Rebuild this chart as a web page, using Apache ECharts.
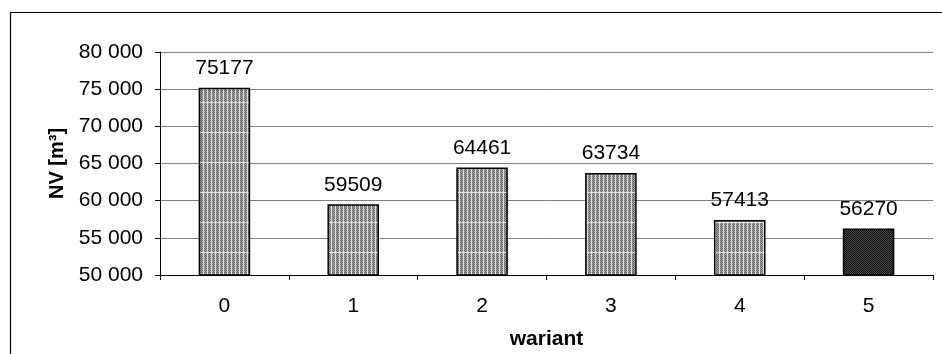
<!DOCTYPE html>
<html><head><meta charset="utf-8">
<script src="https://cdn.jsdelivr.net/npm/echarts@6/dist/echarts.min.js"></script>
<style>html,body{margin:0;padding:0;background:#fff}#c{width:942px;height:354px}</style>
</head><body><div id="c"></div>
<script>
const categories = ['0','1','2','3','4','5'];
const values = [75177, 59509, 64461, 63734, 57413, 56270];
const yTicks = [50000, 55000, 60000, 65000, 70000, 75000, 80000];

function grayPattern() {
  const c = document.createElement('canvas');
  c.width = 4; c.height = 30;
  const g = c.getContext('2d');
  for (let y = 0; y < 30; y++) for (let x = 0; x < 4; x++) {
    g.fillStyle = ((x + y) % 2 === 0) ? '#6a6a6a' : '#a0a0a0';
    g.fillRect(x, y, 1, 1);
  }
  g.fillStyle = '#e0e0e0';
  g.fillRect(3, 0, 1, 30);
  g.fillRect(0, 12, 4, 1);
  return c;
}
function darkPattern() {
  const c = document.createElement('canvas');
  c.width = 4; c.height = 4;
  const g = c.getContext('2d');
  for (let y = 0; y < 4; y++) for (let x = 0; x < 4; x++) {
    g.fillStyle = ((x + y) % 2 === 0) ? '#111111' : '#4a4a4a';
    g.fillRect(x, y, 1, 1);
  }
  return c;
}
const gp = {image: grayPattern(), repeat: 'repeat'};
const dp = {image: darkPattern(), repeat: 'repeat'};

const chart = echarts.init(document.getElementById('c'), null, {renderer: 'canvas'});
const font = 'Liberation Sans, Arial, sans-serif';
chart.setOption({
  animation: false,
  graphic: [{type: 'rect', shape: {x: 10.5, y: 12.5, width: 940, height: 350}, style: {fill: 'none', stroke: '#000', lineWidth: 1.2}, silent: true}],
  grid: {left: 160, right: 9, top: 52, bottom: 79, containLabel: false, outerBoundsMode: 'none'},
  xAxis: {
    type: 'category', data: categories,
    name: 'wariant', nameLocation: 'middle', nameGap: 54,
    nameTextStyle: {fontFamily: font, fontSize: 21, fontWeight: 'bold', color: '#000'},
    axisLine: {lineStyle: {color: '#000', width: 1}},
    axisTick: {show: true, length: 5, lineStyle: {color: '#000'}},
    axisLabel: {fontFamily: font, fontSize: 21, color: '#000', margin: 21}
  },
  yAxis: {
    type: 'value', min: yTicks[0], max: yTicks[yTicks.length - 1], interval: 5000,
    name: 'NV [m³]', nameLocation: 'middle', nameGap: 93, nameRotate: 90,
    nameTextStyle: {fontFamily: font, fontSize: 20, fontWeight: 'bold', color: '#000'},
    axisLine: {show: true, lineStyle: {color: '#000', width: 1}},
    axisTick: {show: true, length: 5, lineStyle: {color: '#000'}},
    axisLabel: {fontFamily: font, fontSize: 21, color: '#000', margin: 17,
      formatter: v => String(v).replace(/\B(?=(\d{3})+(?!\d))/g, ' ')},
    splitLine: {show: true, lineStyle: {color: '#808080', width: 1}}
  },
  series: [{
    type: 'bar', barWidth: '40%',
    data: values.map((v, i) => ({value: v, itemStyle: {color: i === 5 ? dp : gp}})),
    itemStyle: {borderColor: '#000', borderWidth: 1.5},
    label: {show: true, position: 'top', distance: 9, fontFamily: font, fontSize: 21, color: '#000'}
  }]
});
</script></body></html>
